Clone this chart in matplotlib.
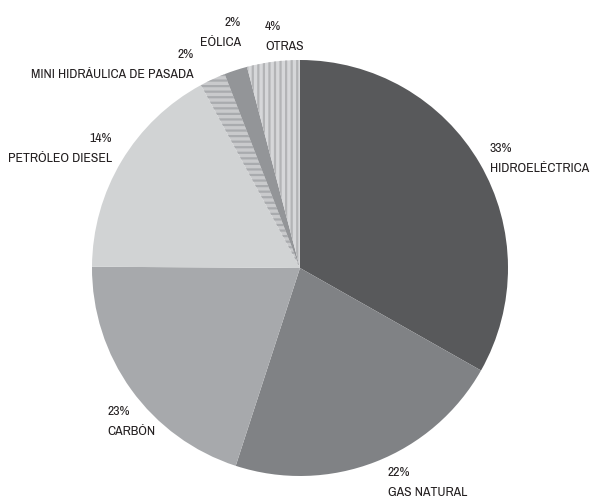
import matplotlib
matplotlib.use("Agg")
import matplotlib.pyplot as plt
from matplotlib import font_manager as fm

categories = ["HIDROELÉCTRICA", "GAS NATURAL", "CARBÓN", "PETRÓLEO DIESEL",
              "MINI HIDRÁULICA DE PASADA", "EÓLICA", "OTRAS"]
values = [33.2, 21.8, 20.1, 17.0, 2.0, 1.8, 4.1]
pct_labels = ["33%", "22%", "23%", "14%", "2%", "2%", "4%"]

face_colors = ["#58595b", "#808285", "#a7a9ac", "#d1d3d4", "#c9cacc", "#939598", "#d6d7d9"]
hatch_colors = [None, None, None, None, "#a9abae", None, "#b3b4b6"]
hatches = [None, None, None, None, "---", None, "|||"]

# pick a narrow / condensed face if one is installed
family, stretch = None, 'normal'
entries = fm.fontManager.ttflist
for e in entries:
    if 'narrow' in e.name.lower() and e.weight in (400, 'normal', 'regular') and e.style == 'normal':
        family, stretch = e.name, e.stretch
        break
if family is None:
    for e in entries:
        if str(e.stretch) in ('condensed', 'semi-condensed', 'extra-condensed') or \
           (isinstance(e.stretch, int) and e.stretch < 500):
            family, stretch = e.name, e.stretch
            break
if family is None:
    family = 'Roboto'

plt.rcParams['font.family'] = [family, 'DejaVu Sans']
plt.rcParams['hatch.linewidth'] = 1.6

W, H = 591, 502
fig = plt.figure(figsize=(W / 100, H / 100), dpi=100)
ax = fig.add_axes([0, 0, 1, 1])

cx, cy, r = 300, H - 269, 208
wedges, _ = ax.pie(values, startangle=90, counterclock=False, colors=face_colors,
                   center=(cx, cy), radius=r, frame=True,
                   wedgeprops=dict(linewidth=0))
ax.set_xlim(0, W)
ax.set_ylim(0, H)
ax.set_aspect('equal')
ax.axis('off')
for w, hc, h in zip(wedges, hatch_colors, hatches):
    if h:
        w.set_hatch(h)
        w.set_edgecolor(hc)
        w.set_linewidth(0)

# fit font size so the long label is close to the reference's width
renderer = fig.canvas.get_renderer()
probe = ax.text(0, 0, "MINI HIDRÁULICA DE PASADA", fontsize=10, fontstretch=stretch)
wpx = probe.get_window_extent(renderer).width
probe.remove()
fs = min(11.0, 10 * 162.0 / wpx)

# label positions (pixel coords, y from top) and alignment
label_pos = [
    (490, 148, 'left'),
    (388, 473, 'left'),
    (107, 412, 'left'),
    (112, 139, 'right'),
    (194, 55, 'right'),
    (241, 22, 'right'),
    (265, 26, 'left'),
]
tc = "#231f20"
for cat, pct, (x, y, ha) in zip(categories, pct_labels, label_pos):
    ax.text(x, H - y, pct, ha=ha, va='center', fontsize=fs, color=tc, fontstretch=stretch)
    ax.text(x, H - y - 20, cat, ha=ha, va='center', fontsize=fs, color=tc, fontstretch=stretch)

fig.savefig("out.png", dpi=100)
